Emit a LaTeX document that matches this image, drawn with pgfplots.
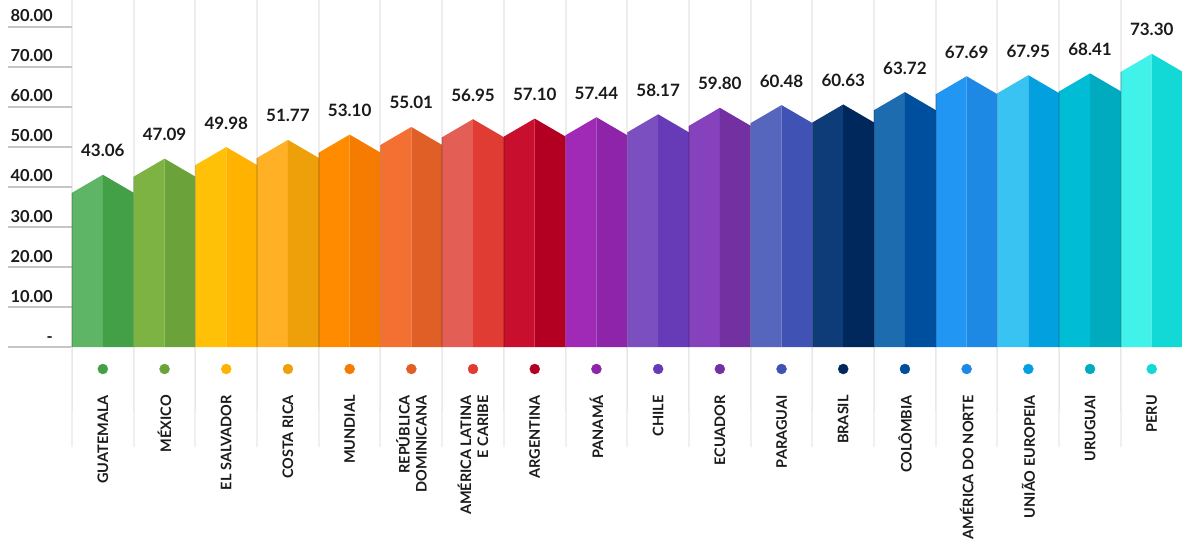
\documentclass[border=0pt]{standalone}
\usepackage{pgfplots}
\pgfplotsset{compat=1.18}
\usepackage{fontspec}
\setmainfont{Lato}
\definecolor{l1}{HTML}{5DB565}\definecolor{d1}{HTML}{43A047}
\definecolor{l2}{HTML}{7CB342}\definecolor{d2}{HTML}{6BA33A}
\definecolor{l3}{HTML}{FFC107}\definecolor{d3}{HTML}{FFB300}
\definecolor{l4}{HTML}{FFB025}\definecolor{d4}{HTML}{EDA00A}
\definecolor{l5}{HTML}{FF8C00}\definecolor{d5}{HTML}{F57C00}
\definecolor{l6}{HTML}{F37032}\definecolor{d6}{HTML}{E05F27}
\definecolor{l7}{HTML}{E35E55}\definecolor{d7}{HTML}{E13C33}
\definecolor{l8}{HTML}{C8102E}\definecolor{d8}{HTML}{B30022}
\definecolor{l9}{HTML}{A02AB5}\definecolor{d9}{HTML}{8E24AA}
\definecolor{l10}{HTML}{7B4FBF}\definecolor{d10}{HTML}{673AB7}
\definecolor{l11}{HTML}{8641BC}\definecolor{d11}{HTML}{7230A0}
\definecolor{l12}{HTML}{5666BD}\definecolor{d12}{HTML}{4152B5}
\definecolor{l13}{HTML}{0D3C78}\definecolor{d13}{HTML}{00285C}
\definecolor{l14}{HTML}{1E6CB0}\definecolor{d14}{HTML}{004F9E}
\definecolor{l15}{HTML}{2196F3}\definecolor{d15}{HTML}{1E88E5}
\definecolor{l16}{HTML}{39C3F2}\definecolor{d16}{HTML}{03A0E0}
\definecolor{l17}{HTML}{00BCD4}\definecolor{d17}{HTML}{00ABC0}
\definecolor{l18}{HTML}{40F2EA}\definecolor{d18}{HTML}{12D8D6}
\definecolor{txt}{HTML}{1A1A1A}
% #1 left, #2 middle, #3 right, #4 value, #5 shoulder, #6 light, #7 dark
\newcommand{\house}[7]{%
  \addplot[fill=#6, draw=none] coordinates {(#1,0) (#1,#5) (#2,#4) (#2,0)};
  \addplot[fill=#7, draw=none] coordinates {(#2,0) (#2,#4) (#3,#5) (#3,0)};
  \addplot[black, opacity=0.12, line width=1.5pt] coordinates {(#1,0) (#1,#5)};
  \addplot[only marks, mark=*, mark size=5pt, color=#7] coordinates {(#2,-5.5)};
}
\begin{document}
\begin{tikzpicture}
\useasboundingbox (0,0) rectangle (1182pt,539pt);
\begin{axis}[
  at={(72pt,192pt)}, anchor=south west,
  scale only axis, width=1110.6pt, height=347pt,
  xmin=0, xmax=18, ymin=0, ymax=86.75,
  clip=false,
  axis line style={draw=none},
  ytick={0,10,20,30,40,50,60,70,80},
  yticklabels={-,10.00,20.00,30.00,40.00,50.00,60.00,70.00,80.00},
  tick align=outside,
  major tick length=64pt,
  ytick style={draw=gray!45, line width=1.5pt},
  yticklabel style={font=\fontsize{16.5}{19}\bfseries, text=txt, anchor=base east, inner sep=0pt, xshift=45pt, yshift=5pt},
  xtick={0.5,1.5,2.5,3.5,4.5,5.5,6.5,7.5,8.5,9.5,10.5,11.5,12.5,13.5,14.5,15.5,16.5,17.5},
  xticklabels={GUATEMALA,MÉXICO,EL SALVADOR,COSTA RICA,MUNDIAL,{REPÚBLICA\\DOMINICANA},{AMÉRICA LATINA\\E CARIBE},ARGENTINA,PANAMÁ,CHILE,ECUADOR,PARAGUAI,BRASIL,COLÔMBIA,AMÉRICA DO NORTE,UNIÃO EUROPEIA,URUGUAI,PERU},
  xtick style={draw=none},
  xticklabel style={font=\fontsize{14.5}{17}\bfseries, text=txt, inner sep=0pt, yshift=16pt, rotate=90, anchor=east, align=right},
  minor xtick={0,1,2,3,4,5,6,7,8,9,10,11,12,13,14,15,16,17,18},
  xminorgrids=true,
  minor x grid style={gray!14, line width=2pt},
]
% separators below the baseline
\addplot[ycomb, gray!12, line width=2pt, mark=none] coordinates {(0,-25) (1,-25) (2,-25) (3,-25) (4,-25) (5,-25) (6,-25) (7,-25) (8,-25) (9,-25) (10,-25) (11,-25) (12,-25) (13,-25) (14,-25) (15,-25) (16,-25) (17,-25) (18,-25)};
\addplot[ycomb, gray!18, line width=1pt, mark=none] coordinates {(0,-16) (1,-16) (2,-16) (3,-16) (4,-16) (5,-16) (6,-16) (7,-16) (8,-16) (9,-16) (10,-16) (11,-16) (12,-16) (13,-16) (14,-16) (15,-16) (16,-16) (17,-16) (18,-16)};
\house{0}{0.5}{1}{43.06}{38.56}{l1}{d1}
\house{1}{1.5}{2}{47.09}{42.59}{l2}{d2}
\house{2}{2.5}{3}{49.98}{45.48}{l3}{d3}
\house{3}{3.5}{4}{51.77}{47.27}{l4}{d4}
\house{4}{4.5}{5}{53.10}{48.60}{l5}{d5}
\house{5}{5.5}{6}{55.01}{50.51}{l6}{d6}
\house{6}{6.5}{7}{56.95}{52.45}{l7}{d7}
\house{7}{7.5}{8}{57.10}{52.60}{l8}{d8}
\house{8}{8.5}{9}{57.44}{52.94}{l9}{d9}
\house{9}{9.5}{10}{58.17}{53.67}{l10}{d10}
\house{10}{10.5}{11}{59.80}{55.30}{l11}{d11}
\house{11}{11.5}{12}{60.48}{55.98}{l12}{d12}
\house{12}{12.5}{13}{60.63}{56.13}{l13}{d13}
\house{13}{13.5}{14}{63.72}{59.22}{l14}{d14}
\house{14}{14.5}{15}{67.69}{63.19}{l15}{d15}
\house{15}{15.5}{16}{67.95}{63.45}{l16}{d16}
\house{16}{16.5}{17}{68.41}{63.91}{l17}{d17}
\house{17}{17.5}{18}{73.30}{68.80}{l18}{d18}
% value labels
\addplot[draw=none, mark=none, point meta=y,
  nodes near coords={\pgfmathprintnumber[fixed, fixed zerofill, precision=2, assume math mode=true]{\pgfplotspointmeta}},
  nodes near coords style={font=\fontsize{17}{20}\bfseries, text=txt, anchor=base, inner sep=0pt, yshift=18pt}]
  coordinates {(0.5,43.06) (1.5,47.09) (2.5,49.98) (3.5,51.77) (4.5,53.10) (5.5,55.01) (6.5,56.95) (7.5,57.10) (8.5,57.44) (9.5,58.17) (10.5,59.80) (11.5,60.48) (12.5,60.63) (13.5,63.72) (14.5,67.69) (15.5,67.95) (16.5,68.41) (17.5,73.30)};
\end{axis}
\end{tikzpicture}
\end{document}
